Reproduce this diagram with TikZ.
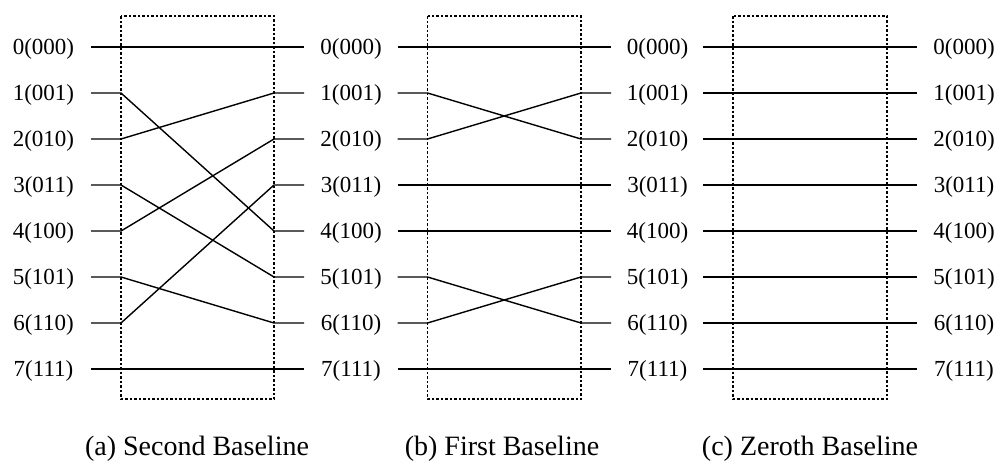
\documentclass[tikz,border=0pt]{standalone}
\usepackage{fontspec}
\setmainfont{Liberation Serif}
\begin{document}
\begin{tikzpicture}[x=1pt,y=-1pt,
  wire/.style={line width=1.4pt,black},
  stagebox/.style={draw,line width=1.2pt,dash pattern=on 2.5pt off 2pt},
  lbl/.style={anchor=base,inner sep=0pt,font=\fontsize{23}{26}\selectfont},
  captext/.style={anchor=base,inner sep=0pt,font=\fontsize{28}{32}\selectfont}]
\useasboundingbox (0,0) rectangle (997,463);
% label columns
\foreach \c/\x in {0/43.5,1/351,2/657.5,3/964}{
  \foreach \i/\t in {0/000,1/001,2/010,3/011,4/100,5/101,6/110,7/111}{
    \node[lbl] (L\c-\i) at (\x,{47+46*\i+7.7}) {\i(\t)};
  }
}
% panel coordinates
\foreach \p/\l/\r in {a/121/274,b/427.5/581,c/733/887}{
  \foreach \i in {0,...,7}{
    \coordinate (\p ol\i) at ({\l-30},{47+46*\i});
    \coordinate (\p il\i) at (\l,{47+46*\i});
    \coordinate (\p ir\i) at (\r,{47+46*\i});
    \coordinate (\p or\i) at ({\r+30},{47+46*\i});
  }
  \coordinate (\p tl) at (\l,16);
  \coordinate (\p br) at (\r,399);
}
% wires
\foreach \p/\map in {a/{0/0,1/4,2/1,3/5,4/2,5/6,6/3,7/7},
                    b/{0/0,1/2,2/1,3/3,4/4,5/6,6/5,7/7},
                    c/{0/0,1/1,2/2,3/3,4/4,5/5,6/6,7/7}}{
  \foreach \i/\j in \map{
    \draw[wire] (\p ol\i) -- (\p il\i) -- (\p ir\j) -- (\p or\j);
  }
}
% dashed boxes
\foreach \p in {a,b,c}{
  \draw[stagebox] (\p tl) rectangle (\p br);
}
% captions
\node[captext] (capa) at (197,455) {(a) Second Baseline};
\node[captext] (capb) at (502,455) {(b) First Baseline};
\node[captext] (capc) at (810,455) {(c) Zeroth Baseline};
\end{tikzpicture}
\end{document}
